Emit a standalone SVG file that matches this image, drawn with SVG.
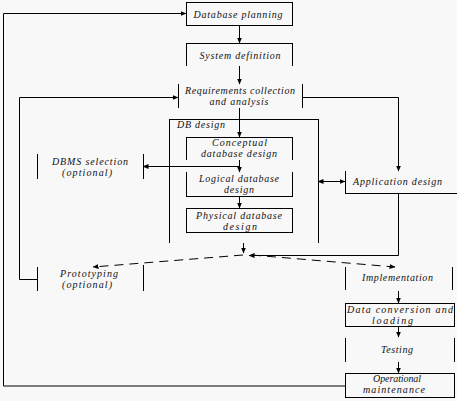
<svg xmlns="http://www.w3.org/2000/svg" width="457" height="401" viewBox="0 0 457 401">
<style>
.bg{fill:#f8f8f8}
.n{fill:none;stroke:#000;stroke-width:1;shape-rendering:crispEdges}
.c{fill:none;stroke:#000;stroke-width:1}
.d{fill:none;stroke:#000;stroke-width:1;stroke-dasharray:9 6}
text{font-family:"Liberation Serif","Times New Roman",serif;font-style:italic;font-size:10px;fill:#111;text-anchor:middle}
</style>
<defs>
<marker id="ah" markerUnits="userSpaceOnUse" markerWidth="6" markerHeight="6" refX="5.5" refY="3" orient="auto-start-reverse">
<path d="M0,0.5 L6,3 L0,5.5 z" fill="#000"/>
</marker>
</defs>
<rect class="bg" x="0" y="0" width="457" height="401"/>
<g id="connectors">
<path class="c" d="M345,386 H3.5 V13.5 H186" marker-end="url(#ah)"/>
<path class="c" d="M239.5,25 V43" marker-end="url(#ah)"/>
<path class="c" d="M239.5,66 V84" marker-end="url(#ah)"/>
<path class="c" d="M37,279.5 H19.5 V97.5 H178" marker-end="url(#ah)"/>
<path class="c" d="M302,97.5 H398.5 V171" marker-end="url(#ah)"/>
<path class="c" d="M239.5,108 V137" marker-end="url(#ah)"/>
<path class="c" d="M239.5,160 V172" marker-end="url(#ah)"/>
<path class="c" d="M239.5,166.5 H143" marker-end="url(#ah)"/>
<path class="c" d="M239.5,196 V208" marker-end="url(#ah)"/>
<path class="c" d="M318,181.5 H345" marker-start="url(#ah)" marker-end="url(#ah)"/>
<path class="c" d="M398.5,193 V255.5 H249" marker-end="url(#ah)"/>
<path class="c" d="M243.5,243 V253" marker-end="url(#ah)"/>
<path class="d" d="M243,255 L93,267" marker-end="url(#ah)"/>
<path class="d" d="M252,255 L395,267" marker-end="url(#ah)"/>
<path class="c" d="M398.5,291 V303" marker-end="url(#ah)"/>
<path class="c" d="M398.5,326 V337" marker-end="url(#ah)"/>
<path class="c" d="M398.5,362 V373" marker-end="url(#ah)"/>
</g>
<g id="planning"><rect class="n" x="186" y="2" width="106" height="23"/><text x="238" y="17.5" textLength="89" lengthAdjust="spacing">Database planning</text></g>
<g id="sysdef"><path class="n" d="M186,66 V43 H292 V66"/><text x="240" y="58.5" textLength="81" lengthAdjust="spacing">System definition</text></g>
<g id="requirements"><path class="n" d="M178,84 V108 M302,84 V108"/><text x="240" y="94" textLength="110" lengthAdjust="spacing">Requirements collection</text><text x="239" y="105.2" textLength="59" lengthAdjust="spacing">and analysis</text></g>
<g id="dbdesign"><path class="n" d="M169,243 V119 H318 V243"/><text x="177" y="128" style="text-anchor:start" textLength="48" lengthAdjust="spacing">DB design</text></g>
<g id="conceptual"><path class="n" d="M186,160 V137 H292 V160"/><text x="239.5" y="146" textLength="55" lengthAdjust="spacing">Conceptual</text><text x="239" y="157.2" textLength="76" lengthAdjust="spacing">database design</text></g>
<g id="logical"><path class="n" d="M186,172 V196 H292 V172"/><text x="239" y="182" textLength="80" lengthAdjust="spacing">Logical database</text><text x="239" y="193.2" textLength="30" lengthAdjust="spacing">design</text></g>
<g id="physical"><rect class="n" x="186" y="208" width="106" height="24"/><text x="239" y="218.8" textLength="86" lengthAdjust="spacing">Physical database</text><text x="240" y="230" textLength="34" lengthAdjust="spacing">design</text></g>
<g id="dbms"><path class="n" d="M37,154 V179 M143,154 V179"/><text x="90" y="164.8" textLength="76" lengthAdjust="spacing">DBMS selection</text><text x="87" y="176" textLength="50" lengthAdjust="spacing">(optional)</text></g>
<g id="appdesign"><path class="n" d="M345,171 V193 H457"/><text x="397.5" y="185" textLength="89" lengthAdjust="spacing">Application design</text></g>
<g id="prototyping"><path class="n" d="M37,267 V291 M143,265 V291"/><text x="89" y="276.8" textLength="58" lengthAdjust="spacing">Prototyping</text><text x="87" y="288" textLength="50" lengthAdjust="spacing">(optional)</text></g>
<g id="implementation"><path class="n" d="M345,267 V290 M452,267 V290"/><text x="397.5" y="281" textLength="71" lengthAdjust="spacing">Implementation</text></g>
<g id="dataconv"><rect class="n" x="345" y="303" width="109" height="23"/><text x="400" y="312.5" textLength="106" lengthAdjust="spacing">Data conversion and</text><text x="392.5" y="323.7" textLength="41" lengthAdjust="spacing">loading</text></g>
<g id="testing"><path class="n" d="M345,338 V362 M454,338 V362"/><text x="397" y="353" textLength="32" lengthAdjust="spacing">Testing</text></g>
<g id="operational"><rect class="n" x="345" y="373" width="109" height="24"/><text x="397" y="381.8" textLength="48" lengthAdjust="spacing">Operational</text><text x="394" y="393" textLength="62" lengthAdjust="spacing">maintenance</text></g>
</svg>
